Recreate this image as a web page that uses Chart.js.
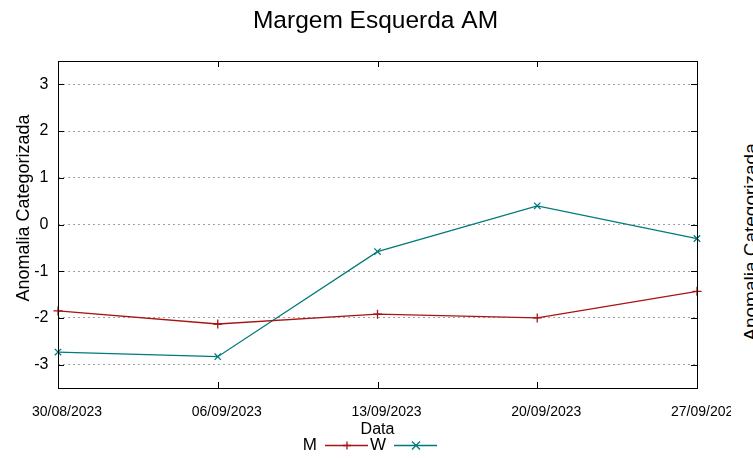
<!DOCTYPE html>
<html><head><meta charset="utf-8">
<script src="https://cdn.jsdelivr.net/npm/chart.js@4/dist/chart.umd.min.js"></script>
<style>
html,body{margin:0;padding:0;background:#fff;overflow:hidden;}
#wrap{position:relative;width:753px;height:458px;overflow:hidden;background:#fff;}
#box{position:absolute;left:0;top:0;width:731px;height:458px;overflow:hidden;}
#rlab{position:absolute;left:751px;top:242px;transform:translate(-50%,-50%) rotate(-90deg);font:19px "Liberation Sans",Arial,sans-serif;white-space:nowrap;color:#000;}
</style></head><body>
<div id="wrap"><div id="box"><canvas id="c" width="731" height="458"></canvas></div><div id="rlab"></div></div>
<script>
const categories = ['30/08/2023','06/09/2023','13/09/2023','20/09/2023','27/09/2023'];
const seriesM = [-1.85, -2.13, -1.92, -2.00, -1.43];
const seriesW = [-2.73, -2.83, -0.58, 0.40, -0.30];
const yTicks = [-3, -2, -1, 0, 1, 2, 3];
const seriesNames = ['M', 'W'];
const chartTitle = 'Margem Esquerda AM';
const xTitle = 'Data';
const yTitle = 'Anomalia Categorizada';

const FONT = '"Liberation Sans", Arial, sans-serif';
const RED = '#a81414';
const TEAL = '#007a7a';

document.getElementById('rlab').textContent = yTitle;

function drawMarker(ctx, style, x, y, r) {
  ctx.beginPath();
  if (style === 'cross') {
    ctx.moveTo(x - r, y); ctx.lineTo(x + r, y);
    ctx.moveTo(x, y - r); ctx.lineTo(x, y + r);
  } else {
    ctx.moveTo(x - r, y - r); ctx.lineTo(x + r, y + r);
    ctx.moveTo(x - r, y + r); ctx.lineTo(x + r, y - r);
  }
  ctx.stroke();
}

const framePlugin = {
  id: 'frame',
  afterDatasetsDraw(chart) {
    const {ctx, chartArea: a, scales: {x, y}} = chart;
    ctx.save();
    ctx.strokeStyle = '#000';
    ctx.lineWidth = 1;
    ctx.beginPath();
    y.ticks.forEach(t => {
      const p = Math.round(y.getPixelForValue(t.value)) + 0.5;
      ctx.moveTo(a.left, p); ctx.lineTo(a.left + 6, p);
      ctx.moveTo(a.right - 6, p); ctx.lineTo(a.right, p);
    });
    x.ticks.forEach((t, i) => {
      const p = Math.round(x.getPixelForTick(i)) + 0.5;
      ctx.moveTo(p, a.bottom); ctx.lineTo(p, a.bottom - 6);
      ctx.moveTo(p, a.top); ctx.lineTo(p, a.top + 6);
    });
    ctx.stroke();
    ctx.strokeRect(Math.round(a.left) + 0.5, Math.round(a.top) + 0.5,
      Math.round(a.right - a.left), Math.round(a.bottom - a.top));
    ctx.restore();
  },
  afterDraw(chart) {
    const {ctx, chartArea: a} = chart;
    const xc = (a.left + a.right) / 2;
    ctx.save();
    ctx.fillStyle = '#000';
    ctx.textBaseline = 'alphabetic';
    // title
    ctx.font = '24.5px ' + FONT;
    ctx.textAlign = 'center';
    ctx.fillText(chartTitle, xc - 2, 28);
    // y axis title
    ctx.save();
    ctx.translate(24, 208);
    ctx.rotate(-Math.PI / 2);
    ctx.font = '18px ' + FONT;
    ctx.textAlign = 'center';
    ctx.textBaseline = 'middle';
    ctx.fillText(yTitle, 0, 0);
    ctx.restore();
    // legend (text then sample)
    ctx.font = '17px ' + FONT;
    ctx.textAlign = 'right';
    const entries = chart.data.datasets;
    const starts = [xc - 60.5, xc + 8.5];
    entries.forEach((ds, i) => {
      const tx = starts[i];
      ctx.fillStyle = '#000';
      ctx.fillText(ds.label, tx, 450);
      ctx.strokeStyle = ds.borderColor;
      ctx.lineWidth = 1.3;
      ctx.beginPath();
      ctx.moveTo(tx + 8, 445.5); ctx.lineTo(tx + 51, 445.5);
      ctx.stroke();
      drawMarker(ctx, ds.pointStyle, tx + 30, 445.5, 4);
    });
    ctx.restore();
  }
};

Chart.defaults.font.family = FONT;
Chart.defaults.color = '#000';

new Chart(document.getElementById('c'), {
  type: 'line',
  data: {
    labels: categories,
    datasets: [
      {label: seriesNames[0], data: seriesM, borderColor: RED, backgroundColor: RED,
       borderWidth: 1.3, pointStyle: 'cross', pointRadius: 4.5, pointBorderWidth: 1.3,
       tension: 0, clip: 8},
      {label: seriesNames[1], data: seriesW, borderColor: TEAL, backgroundColor: TEAL,
       borderWidth: 1.3, pointStyle: 'crossRot', pointRadius: 4.5, pointBorderWidth: 1.3,
       tension: 0, clip: 8}
    ]
  },
  options: {
    responsive: false,
    animation: false,
    devicePixelRatio: 1,
    layout: {padding: {top: 61, right: 34, left: 0, bottom: 0}},
    plugins: {legend: {display: false}, title: {display: false}, tooltip: {enabled: false}},
    scales: {
      x: {
        type: 'category',
        offset: false,
        grid: {display: false, drawTicks: false},
        border: {display: false},
        ticks: {font: {size: 14}, padding: 15.3, labelOffset: 9, maxRotation: 0, autoSkip: false},
        title: {display: true, text: xTitle, font: {size: 16}, padding: {top: 0, bottom: 18.4}},
        afterFit(s) { s.height = 70; s.paddingLeft = 0; s.paddingRight = 0; }
      },
      y: {
        min: -3.5, max: 3.5,
        afterBuildTicks(s) { s.ticks = yTicks.map(v => ({value: v})); },
        grid: {color: '#a0a0a0', lineWidth: 1, drawTicks: false},
        border: {display: false, dash: [2, 3]},
        ticks: {font: {size: 16}, padding: 9.5},
        title: {display: false},
        afterFit(s) { s.width = 58; }
      }
    }
  },
  plugins: [framePlugin]
});
</script>
</body></html>
